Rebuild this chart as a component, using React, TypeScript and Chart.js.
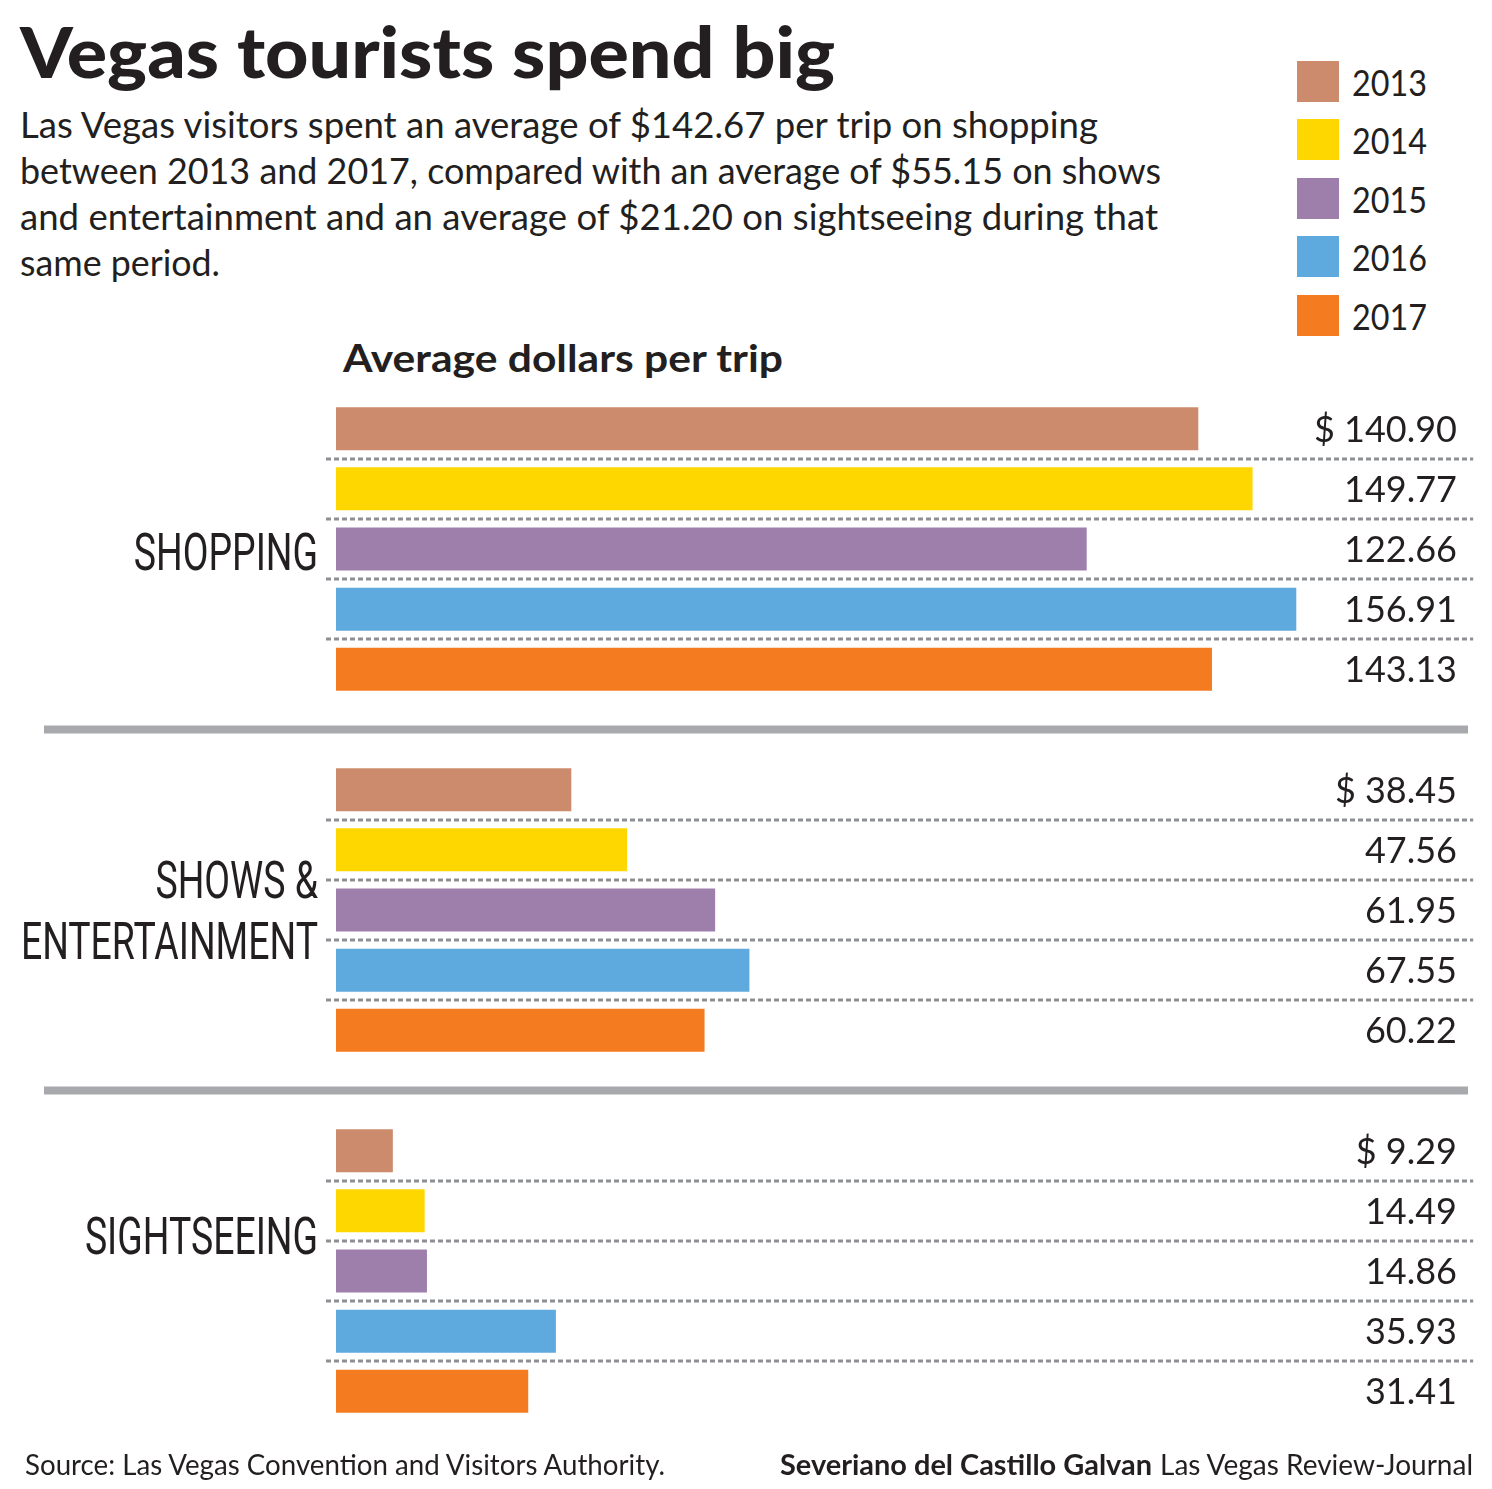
import React, { useEffect, useLayoutEffect, useRef } from "react";
import { Chart, registerables } from "chart.js";

Chart.register(...registerables);

// ---------- data ----------
const years = ["2013", "2014", "2015", "2016", "2017"];
const categories = ["SHOPPING", "SHOWS &\nENTERTAINMENT", "SIGHTSEEING"];
const shopping = [140.9, 149.77, 122.66, 156.91, 143.13];
const shows = [38.45, 47.56, 61.95, 67.55, 60.22];
const sightseeing = [9.29, 14.49, 14.86, 35.93, 31.41];
const colors = ["#cd8b6d", "#ffd700", "#9e7eab", "#5ea9dd", "#f47b20"];

const title = "Vegas tourists spend big";
const subtitleLines = [
  "Las Vegas visitors spent an average of $142.67 per trip on shopping",
  "between 2013 and 2017, compared with an average of $55.15 on shows",
  "and entertainment and an average of $21.20 on sightseeing during that",
  "same period.",
];
const axisTitle = "Average dollars per trip";
const sourceText = "Source: Las Vegas Convention and Visitors Authority.";
const creditName = "Severiano del Castillo Galvan";
const creditOrg = "Las Vegas Review-Journal";

// ---------- layout / style ----------
const INK = "#231f20";
const SANS = "Lato, 'Open Sans', sans-serif";
const COND = "Roboto, 'Liberation Sans', sans-serif";
const CANVAS_TOP = 340;
const CANVAS_H = 1120;
const W = 1492;
const H = 1489;
const labelOffsets = [2.5, 0, -36];
// total widths of the condensed category labels in the reference (SHOPPING, SHOWS &, ENTERTAINMENT, SIGHTSEEING)
const labelFitTotal = 178 + 166 + 298 + 235;

type TxtProps = {
  text: string;
  x: number;
  y: number; // baseline
  w?: number; // target width
  size: number;
  weight?: number;
  family?: string;
};

function Txt({ text, x, y, w, size, weight = 400, family = SANS }: TxtProps) {
  const box = useRef<HTMLDivElement>(null);
  const inner = useRef<HTMLSpanElement>(null);
  const mark = useRef<HTMLSpanElement>(null);
  useLayoutEffect(() => {
    const fit = () => {
      const b = box.current, s = inner.current, m = mark.current;
      if (!b || !s || !m) return;
      s.style.transform = "none";
      const nat = s.getBoundingClientRect().width;
      const k = w && nat > 0 ? w / nat : 1;
      s.style.transform = `scaleX(${k})`;
      const base = m.offsetTop;
      b.style.top = `${y - base}px`;
    };
    fit();
    (document as any).fonts?.ready?.then(fit);
  }, [text, x, y, w, size, weight, family]);
  return (
    <div
      ref={box}
      style={{
        position: "absolute",
        left: x,
        top: y - size,
        whiteSpace: "nowrap",
        fontFamily: family,
        fontSize: size,
        fontWeight: weight,
        color: INK,
        lineHeight: `${Math.round(size * 1.3)}px`,
      }}
    >
      <span ref={inner} style={{ display: "inline-block", transformOrigin: "left center" }}>
        {text}
      </span>
      <span ref={mark} style={{ display: "inline-block", width: 0, height: 0 }} />
    </div>
  );
}

function BarChart() {
  const ref = useRef<HTMLCanvasElement>(null);
  useEffect(() => {
    const canvas = ref.current;
    if (!canvas) return;
    const series = [shopping, shows, sightseeing];

    const decor = {
      id: "decor",
      afterDatasetsDraw(chart: any) {
        const ctx = chart.ctx as CanvasRenderingContext2D;
        const metas = years.map((_, j) => chart.getDatasetMeta(j));
        const area = chart.chartArea;
        ctx.save();
        // dotted separators between bars
        ctx.strokeStyle = "#8d8f92";
        ctx.lineWidth = 3;
        ctx.setLineDash([5, 3]);
        for (let i = 0; i < categories.length; i++) {
          for (let k = 1; k < years.length; k++) {
            const y = Math.round((metas[k - 1].data[i].y + metas[k].data[i].y) / 2);
            ctx.beginPath();
            ctx.moveTo(area.left - 10, y);
            ctx.lineTo(area.right + 5, y);
            ctx.stroke();
          }
        }
        // thick separators between categories
        ctx.setLineDash([]);
        ctx.strokeStyle = "#a7a9ac";
        ctx.lineWidth = 8;
        for (let i = 0; i < categories.length - 1; i++) {
          const y = (metas[years.length - 1].data[i].y + metas[0].data[i + 1].y) / 2;
          ctx.beginPath();
          ctx.moveTo(44, y);
          ctx.lineTo(1468, y);
          ctx.stroke();
        }
        // value labels
        ctx.fillStyle = INK;
        ctx.font = `36px ${SANS}`;
        ctx.textAlign = "right";
        ctx.textBaseline = "alphabetic";
        for (let i = 0; i < categories.length; i++) {
          for (let j = 0; j < years.length; j++) {
            const bar = metas[j].data[i];
            const v = series[i][j].toFixed(2);
            const label = j === 0 ? `$ ${v}` : v;
            ctx.fillText(label, 1457, bar.y + 13);
          }
        }
        // category labels (condensed)
        ctx.font = `52px ${COND}`;
        let measured = 0;
        categories.forEach((c) => c.split("\n").forEach((ln) => (measured += ctx.measureText(ln).width)));
        const k = labelFitTotal / measured;
        const yScale = chart.scales.y;
        for (let i = 0; i < categories.length; i++) {
          const lines = categories[i].split("\n");
          const c = yScale.getPixelForValue(i) + labelOffsets[i];
          lines.forEach((ln, li) => {
            const center = c + (li - (lines.length - 1) / 2) * 60.5;
            ctx.save();
            ctx.translate(318, center + 18.5);
            ctx.scale(k, 1);
            ctx.textAlign = "right";
            ctx.fillText(ln, 0, 0);
            ctx.restore();
          });
        }
        ctx.restore();
      },
    };

    const chart = new Chart(canvas, {
      type: "bar",
      data: {
        labels: categories,
        datasets: years.map((yr, j) => ({
          label: yr,
          data: series.map((s) => s[j]),
          backgroundColor: colors[j],
          borderWidth: 0,
          categoryPercentage: 5 / 6,
          barPercentage: 0.714,
        })),
      },
      options: {
        indexAxis: "y",
        animation: false,
        responsive: false,
        maintainAspectRatio: false,
        layout: { padding: { left: 336, right: W - 336 - 1132.2, top: 368.5 - CANVAS_TOP, bottom: CANVAS_TOP + CANVAS_H - 1451.5 } },
        scales: {
          x: { type: "linear", min: 0, max: 185, display: false },
          y: { type: "category", display: false },
        },
        plugins: {
          legend: { display: false },
          tooltip: { enabled: false },
        },
      },
      plugins: [decor],
    });
    const fonts = (document as any).fonts;
    if (fonts && fonts.load) {
      Promise.all([fonts.load(`36px Lato`), fonts.load(`52px Roboto`)])
        .then(() => chart.update())
        .catch(() => {});
    }
    return () => chart.destroy();
  }, []);
  return (
    <canvas
      ref={ref}
      width={W}
      height={CANVAS_H}
      style={{ position: "absolute", left: 0, top: CANVAS_TOP, width: W, height: CANVAS_H }}
    />
  );
}

export default function App() {
  useEffect(() => {
    document.body.style.margin = "0";
    document.body.style.overflow = "hidden";
    document.body.style.background = "#fff";
  }, []);
  const subBaselines = [138, 184, 230, 276];
  const subWidths = [1078, 1141, 1138, 200];
  return (
    <div style={{ position: "relative", width: W, height: H, background: "#fff", overflow: "hidden" }}>
      <Txt text={title} x={20} y={78} w={815} size={70} weight={900} />
      {subtitleLines.map((ln, i) => (
        <Txt key={i} text={ln} x={20} y={subBaselines[i]} w={subWidths[i]} size={37} />
      ))}
      {years.map((yr, j) => {
        const top = 61 + j * 58.4;
        return (
          <React.Fragment key={yr}>
            <div
              style={{ position: "absolute", left: 1297, top, width: 42, height: 41, background: colors[j] }}
            />
            <Txt text={yr} x={1352} y={top + 35} w={75} size={37} />
          </React.Fragment>
        );
      })}
      <Txt text={axisTitle} x={343} y={372} w={440} size={38} weight={700} />
      <BarChart />
      <Txt text={sourceText} x={25} y={1475} w={640} size={29} />
      <Txt text={creditName} x={780} y={1475} w={372} size={29} weight={700} />
      <Txt text={creditOrg} x={1160} y={1475} w={313} size={29} />
    </div>
  );
}
